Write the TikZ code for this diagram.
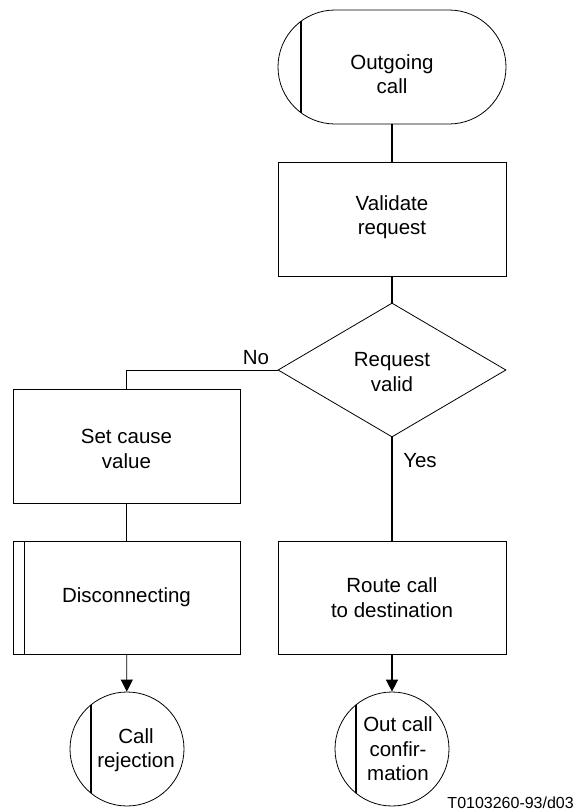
\documentclass[tikz,border=0pt]{standalone}
\usepackage{fontspec}
\setmainfont{Liberation Sans}
\usetikzlibrary{shapes.geometric,arrows.meta}
\begin{document}
\begin{tikzpicture}[x=1pt,y=-1pt,
  mainfont/.style={font=\fontsize{20.5}{24.6}\selectfont},
  box/.style={draw,line width=0.8pt,minimum width=228pt,minimum height=114pt,inner sep=0pt,align=center,mainfont},
  term/.style={box,rounded corners=57pt},
  dec/.style={draw,diamond,line width=0.8pt,minimum width=228pt,minimum height=134pt,inner sep=0pt,align=center,mainfont},
  conn/.style={draw,circle,line width=0.8pt,minimum size=114pt,inner sep=0pt},
  txt/.style={align=center,inner sep=0pt,mainfont},
  bar/.style={line width=1.6pt},
  thinc/.style={line width=0.8pt},
  thickc/.style={line width=1.6pt},
  arr/.style={-{Triangle[length=12pt,width=12pt]}}]
\useasboundingbox (0,0) rectangle (576,812);

\node[term] (start) at (392,67) {};
\node[box] (val) at (392,219) {};
\node[dec] (dec) at (392,370) {};
\node[box,minimum width=227pt] (set) at (126.5,446) {};
\node[box,minimum width=227pt,minimum height=113pt] (disc) at (126.5,597.5) {Disconnecting};
\node[box,minimum height=113pt] (route) at (392,597.5) {Route call\\to destination};
\node[conn] (rej) at (127,749) {};
\node[conn] (conf) at (392,749) {};

% inner bars
\draw[bar] (301,21.3) -- (301,112.7);
\draw[bar] ([xshift=12pt]disc.north west) -- ([xshift=12pt]disc.south west);
\draw[bar] (91,704.8) -- (91,793.2);
\draw[bar] (356,704.8) -- (356,793.2);

% texts
\node[txt] (startt) at (392,74) {Outgoing\\call};
\node[txt] (valt) at (392,217) {Validate\\request};
\node[txt] (dect) at (392,372) {Request\\valid};
\node[txt] (sett) at (126.5,449) {Set cause\\value};
\node[txt] (rejt) at (136,750) {Call\\rejection};
\node[txt] (conft) at (398,749) {Out call\\confir-\\mation};
\node[txt] (no) at (256,358) {No};
\node[txt] (yes) at (420,461) {Yes};
\node[inner sep=0pt,anchor=east,font=\fontsize{16}{19}\selectfont] (id) at (574,803) {T0103260-93/d03};

% connectors
\draw[thickc] (start) -- (val);
\draw[thickc] (val) -- (dec);
\draw[thinc] (dec.west) -| (set.north);
\draw[thinc] (set) -- (disc);
\draw[thinc,arr] (disc) -- (rej);
\draw[thickc] (dec.south) -- (route.north);
\draw[thickc,arr] (route) -- (conf);
\end{tikzpicture}
\end{document}
